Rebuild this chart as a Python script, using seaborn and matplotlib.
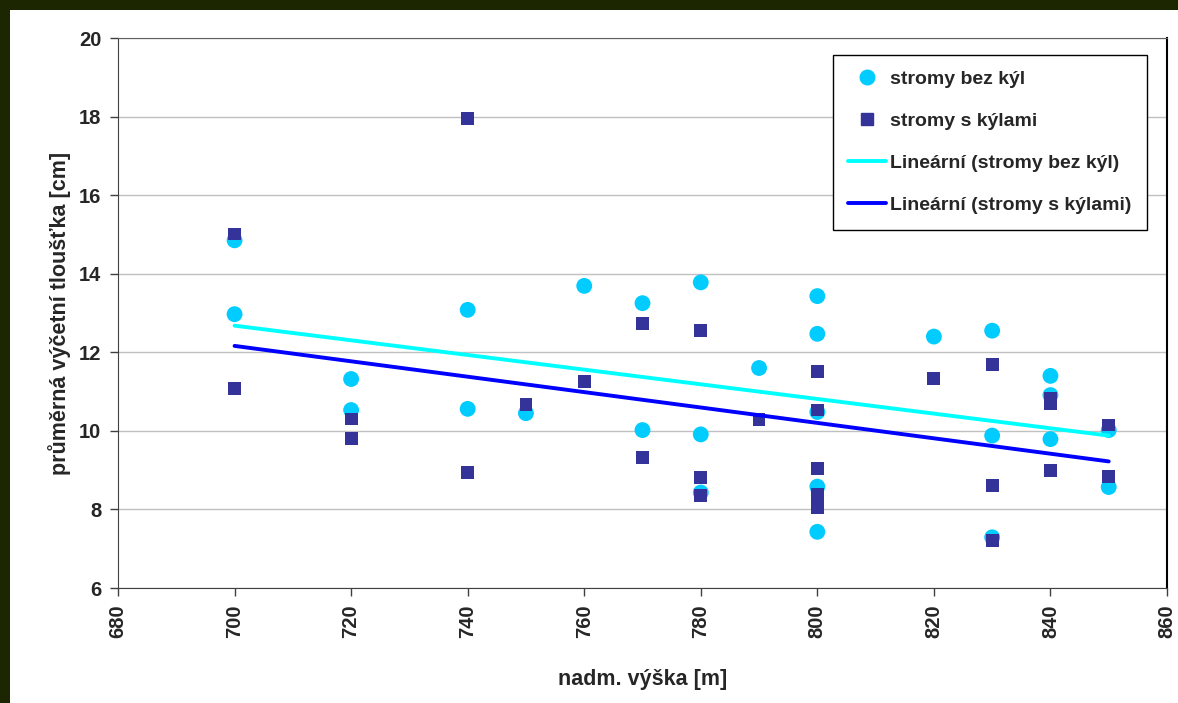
import numpy as np
import pandas as pd
import seaborn as sns
import matplotlib.pyplot as plt
from matplotlib.lines import Line2D
from matplotlib.patches import Rectangle

# stromy bez kýl (circles)
bez_x = [700, 700, 720, 720, 740, 740, 750, 760, 770, 770, 780, 780, 780, 790,
         800, 800, 800, 800, 800, 820, 830, 830, 830, 840, 840, 840, 850, 850]
bez_y = [14.85, 12.97, 11.32, 10.53, 13.08, 10.56, 10.45, 13.69, 13.25, 10.02,
         13.78, 9.91, 8.43, 11.60, 13.43, 12.47, 10.48, 8.58, 7.43, 12.40,
         12.55, 9.88, 7.29, 11.40, 10.91, 9.79, 10.02, 8.57]

# stromy s kýlami (squares)
s_x = [700, 700, 720, 720, 740, 740, 750, 760, 770, 770, 780, 780, 780, 790,
       800, 800, 800, 800, 800, 820, 830, 830, 830, 840, 840, 840, 850, 850]
s_y = [15.01, 11.07, 10.30, 9.80, 17.96, 8.95, 10.68, 11.25, 12.74, 9.33,
       12.56, 8.81, 8.35, 10.29, 11.51, 10.53, 9.04, 8.38, 8.04, 11.33,
       11.68, 8.61, 7.20, 10.82, 10.70, 9.00, 10.15, 8.83]

x_ticks = [680, 700, 720, 740, 760, 780, 800, 820, 840, 860]
y_ticks = [6, 8, 10, 12, 14, 16, 18, 20]

bez = pd.DataFrame({"x": bez_x, "y": bez_y})
sky = pd.DataFrame({"x": s_x, "y": s_y})

sns.set_style("white")
plt.rcParams["font.family"] = ["Liberation Sans", "DejaVu Sans"]
plt.rcParams["font.weight"] = "bold"

fig = plt.figure(figsize=(11.78, 7.03), dpi=100)
fig.patch.set_facecolor("#1c2600")
fig.add_artist(Rectangle((10 / 1178, 0), 1, 1 - 10 / 703, transform=fig.transFigure,
                         facecolor="white", edgecolor="none", zorder=-10))
ax = fig.add_axes([118 / 1178, 1 - 588 / 703, (1167 - 118) / 1178, (588 - 38) / 703])

c_bez = "#00ccff"
c_s = "#333399"

sns.scatterplot(data=bez, x="x", y="y", ax=ax, color=c_bez, marker="o", s=130,
                edgecolor="none", zorder=3)
sns.scatterplot(data=sky, x="x", y="y", ax=ax, color=c_s, marker="s", s=85,
                edgecolor="none", zorder=4)

# linear trends
for df, col in [(bez, "#00ffff"), (sky, "#0000ff")]:
    k, q = np.polyfit(df["x"], df["y"], 1)
    xs = np.array([df["x"].min(), df["x"].max()])
    sns.lineplot(x=xs, y=k * xs + q, ax=ax, color=col, linewidth=2.8, zorder=5)

ax.set_xlim(680, 860)
ax.set_ylim(6, 20)
ax.set_xticks(x_ticks)
ax.set_yticks(y_ticks)
ax.set_xticklabels([str(v) for v in x_ticks], rotation=90, fontsize=14.5, fontweight="bold")
ax.set_yticklabels([str(v) for v in y_ticks], fontsize=14.5, fontweight="bold")
ax.tick_params(axis="both", direction="out", length=6, width=1, color="#404040",
               bottom=True, left=True, pad=6)
ax.yaxis.grid(True, color="#c0c0c0", linewidth=1)
ax.set_axisbelow(True)
for side in ["left", "bottom"]:
    ax.spines[side].set_color("#404040")
ax.spines["top"].set_color("#606060")
ax.spines["right"].set_color("black")
ax.spines["right"].set_linewidth(1.5)

ax.set_xlabel("nadm. výška [m]", fontsize=15.5, fontweight="bold", labelpad=22)
ax.set_ylabel("průměrná výčetní tloušťka [cm]", fontsize=15.5, fontweight="bold", labelpad=6)

handles = [
    Line2D([], [], linestyle="none", marker="o", markersize=10.5, color=c_bez),
    Line2D([], [], linestyle="none", marker="s", markersize=8.5, color=c_s),
    Line2D([], [], color="#00ffff", linewidth=2.8),
    Line2D([], [], color="#0000ff", linewidth=2.8),
]
labels = ["stromy bez kýl", "stromy s kýlami",
          "Lineární (stromy bez kýl)", "Lineární (stromy s kýlami)"]
leg = ax.legend(handles, labels, loc="upper right", bbox_to_anchor=(0.981, 0.969),
                borderaxespad=0, fancybox=False, framealpha=1, edgecolor="black",
                prop={"weight": "bold", "size": 14}, labelspacing=1.25,
                handlelength=1.95, handletextpad=0.2, borderpad=0.8)
leg.get_frame().set_linewidth(1)

fig.savefig("out.png", dpi=100)
